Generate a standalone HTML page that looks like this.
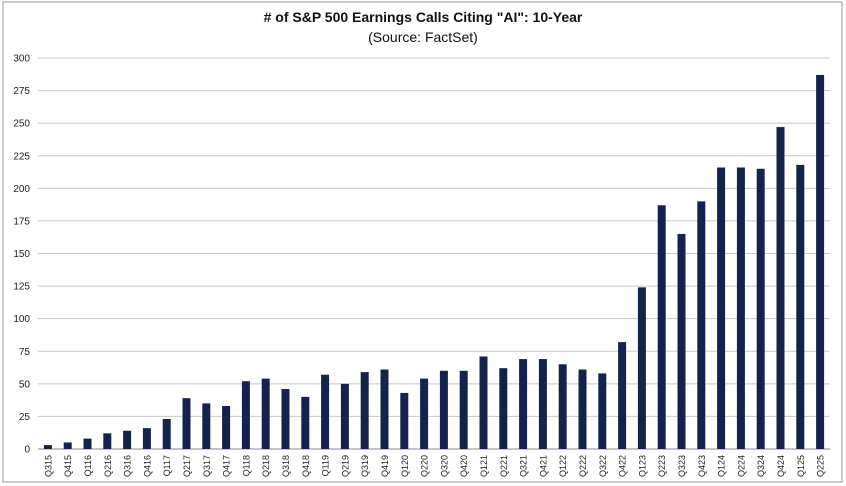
<!DOCTYPE html>
<html><head><meta charset="utf-8"><style>
html,body{margin:0;padding:0;background:#fff;}
svg{display:block;font-family:"Liberation Sans",Arial,sans-serif;}
</style></head><body>
<svg id="chart" width="846" height="486">
<rect x="3" y="2" width="839" height="480" fill="#fff" stroke="#9a9a9a" stroke-width="1"/>
<text x="423" y="22" text-anchor="middle" font-size="14" font-weight="bold" fill="#111"># of S&amp;P 500 Earnings Calls Citing "AI": 10-Year</text>
<text x="423" y="42" text-anchor="middle" font-size="14" fill="#111">(Source: FactSet)</text>
<g id="grid"></g><g id="bars"></g><g id="labels"></g>
</svg>
<script>
const categories=["Q315","Q415","Q116","Q216","Q316","Q416","Q117","Q217","Q317","Q417","Q118","Q218","Q318","Q418","Q119","Q219","Q319","Q419","Q120","Q220","Q320","Q420","Q121","Q221","Q321","Q421","Q122","Q222","Q322","Q422","Q123","Q223","Q323","Q423","Q124","Q224","Q324","Q424","Q125","Q225"];
const values=[3,5,8,12,14,16,23,39,35,33,52,54,46,40,57,50,59,61,43,54,60,60,71,62,69,69,65,61,58,82,124,187,165,190,216,216,215,247,218,287];
const yTicks=[0,25,50,75,100,125,150,175,200,225,250,275,300];
const NS="http://www.w3.org/2000/svg";
const x0=38,x1=830,yBase=449,yTop=58,yMax=300;
const step=(x1-x0)/categories.length;
function y(v){return yBase-(v/yMax)*(yBase-yTop);}
function xc(i){return x0+step*(i+0.5);}
const grid=document.getElementById('grid'),bars=document.getElementById('bars'),labels=document.getElementById('labels');
yTicks.forEach(t=>{
  const l=document.createElementNS(NS,'line');
  l.setAttribute('x1',x0);l.setAttribute('x2',x1);l.setAttribute('y1',y(t));l.setAttribute('y2',y(t));
  l.setAttribute('stroke',t===0?'#888':'#c8c8c8');l.setAttribute('stroke-width','1');
  
  
  grid.appendChild(l);
  const tx=document.createElementNS(NS,'text');
  tx.setAttribute('x',30);tx.setAttribute('y',y(t)+3.5);tx.setAttribute('text-anchor','end');
  tx.setAttribute('font-size','10');tx.setAttribute('fill','#222');tx.textContent=t;
  
  
  grid.appendChild(tx);
});
categories.forEach((c,i)=>{
  const r=document.createElementNS(NS,'rect');
  const bw=8;
  r.setAttribute('x',xc(i)-bw/2);r.setAttribute('width',bw);
  r.setAttribute('y',y(values[i]));r.setAttribute('height',yBase-y(values[i]));
  r.setAttribute('fill','#14234b');
  
  
  bars.appendChild(r);
  const t=document.createElementNS(NS,'text');
  t.setAttribute('transform','translate('+(xc(i)+3.5)+',455) rotate(-90)');
  t.setAttribute('text-anchor','end');t.setAttribute('font-size','9');t.setAttribute('fill','#222');
  t.textContent=c;
  
  
  labels.appendChild(t);
});
</script>
</body></html>
